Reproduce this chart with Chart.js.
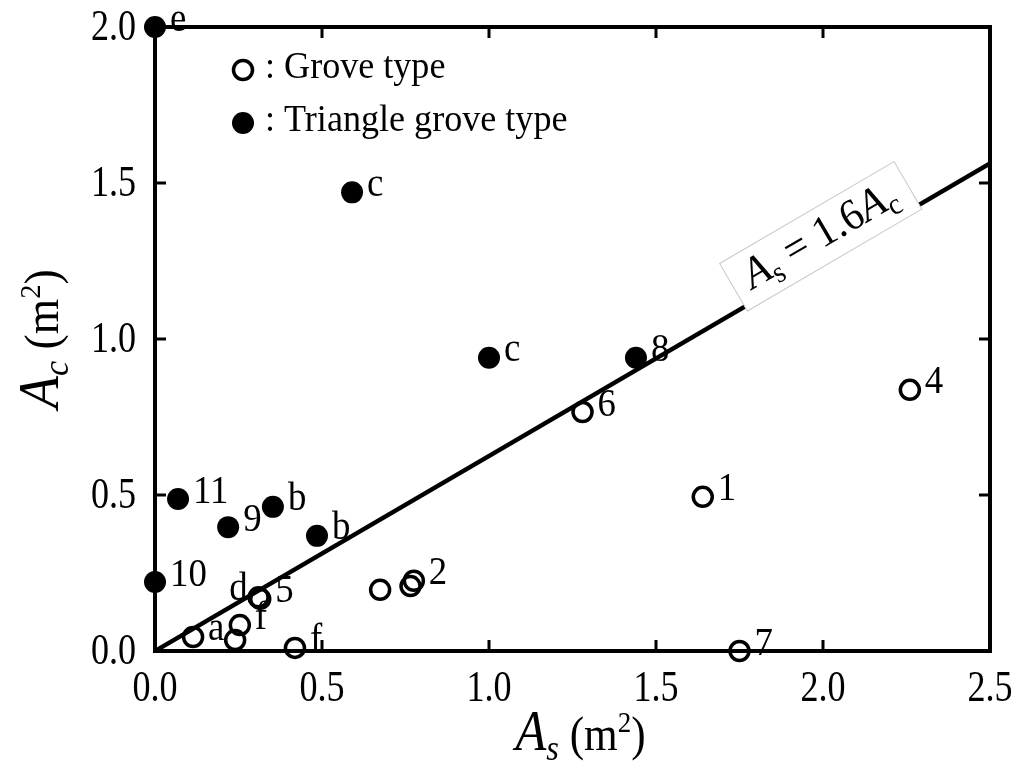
<!DOCTYPE html>
<html>
<head>
<meta charset="utf-8">
<script src="https://cdn.jsdelivr.net/npm/chart.js@4/dist/chart.umd.min.js"></script>
<style>
  html, body { margin: 0; padding: 0; background: #fff; }
  #wrap { width: 1016px; height: 767px; }
</style>
</head>
<body>
<div id="wrap"><canvas id="c" width="1016" height="767"></canvas></div>
<script>
// Grove type specimens (open circles)
const groveAs = [1.64, 0.775, 0.765, 0.674, 2.26, 0.315, 0.31, 1.28, 1.75, 0.114, 0.254, 0.24, 0.419];
const groveAc = [0.494, 0.225, 0.208, 0.196, 0.837, 0.167, 0.172, 0.766, 0.0, 0.045, 0.083, 0.035, 0.01];
const groveTags = ['1', '2', '', '', '4', '5', 'd', '6', '7', 'a', 'f', '', 'f'];

// Triangle grove type specimens (filled circles)
const triAs = [0.0, 0.59, 1.0, 1.44, 0.069, 0.219, 0.353, 0.485, 0.0];
const triAc = [2.0, 1.47, 0.94, 0.94, 0.487, 0.397, 0.462, 0.369, 0.221];
const triTags = ['e', 'c', 'c', '8', '11', '9', 'b', 'b', '10'];

// Reference relation As = 1.6 Ac
const ratio = 1.6;
const asRange = [0, 2.5];
const acRange = [0, 2.0];
const asTicks = [0, 0.5, 1.0, 1.5, 2.0, 2.5];
const acTicks = [0, 0.5, 1.0, 1.5, 2.0];

const SERIF = '"Liberation Serif", "Times New Roman", serif';

const toPoints = (xs, ys) => xs.map((x, i) => ({ x: x, y: ys[i] }));

// Draw a run of text segments (font, text, vertical shift) with horizontal compression
function richWidth(ctx, segs, sx) {
  let w = 0;
  segs.forEach(s => { ctx.font = s.font; w += ctx.measureText(s.t).width * sx; });
  return w;
}
function drawRich(ctx, segs, x, y, align, sx) {
  const w = richWidth(ctx, segs, sx);
  let cx = align === 'center' ? x - w / 2 : (align === 'right' ? x - w : x);
  ctx.textAlign = 'left';
  segs.forEach(s => {
    ctx.font = s.font;
    ctx.save();
    ctx.translate(cx, y + (s.dy || 0));
    ctx.scale(sx, 1);
    ctx.fillText(s.t, 0, 0);
    ctx.restore();
    cx += ctx.measureText(s.t).width * sx;
  });
}
function drawText(ctx, t, x, y, font, align, sx) {
  drawRich(ctx, [{ t: t, font: font }], x, y, align, sx);
}

const framePlugin = {
  id: 'frame',
  afterDatasetsDraw(chart) {
    const ctx = chart.ctx;
    const xs = chart.scales.x, ys = chart.scales.y;
    const L = xs.getPixelForValue(asRange[0]), R = xs.getPixelForValue(asRange[1]);
    const T = ys.getPixelForValue(acRange[1]), B = ys.getPixelForValue(acRange[0]);

    ctx.save();
    ctx.fillStyle = '#000';
    ctx.strokeStyle = '#000';

    // label box on the reference line
    const a0 = 1.766;
    const p0x = xs.getPixelForValue(a0), p0y = ys.getPixelForValue(a0 / ratio);
    const q0x = xs.getPixelForValue(asRange[1]), q0y = ys.getPixelForValue(asRange[1] / ratio);
    const ang = Math.atan2(q0y - p0y, q0x - p0x);
    ctx.save();
    ctx.translate(p0x, p0y);
    ctx.rotate(ang);
    ctx.fillStyle = '#fff';
    ctx.fillRect(0, -50, 202, 55);
    ctx.strokeStyle = '#c8c8c8';
    ctx.lineWidth = 1;
    ctx.strokeRect(0, -50, 202, 55);
    ctx.fillStyle = '#000';
    ctx.textBaseline = 'alphabetic';
    drawRich(ctx, [
      { t: 'A', font: 'italic 44px ' + SERIF },
      { t: 's', font: '30px ' + SERIF, dy: 8 },
      { t: ' = 1.6', font: '44px ' + SERIF },
      { t: 'A', font: 'italic 44px ' + SERIF },
      { t: 'c', font: '30px ' + SERIF, dy: 8 }
    ], 101, -11, 'center', 0.95);
    ctx.restore();

    // frame
    ctx.lineWidth = 4;
    ctx.strokeRect(L, T, R - L, B - T);

    // inward ticks on all four sides
    ctx.lineWidth = 3;
    const tl = 11;
    asTicks.forEach(v => {
      const px = xs.getPixelForValue(v);
      ctx.beginPath();
      ctx.moveTo(px, B); ctx.lineTo(px, B - tl);
      ctx.moveTo(px, T); ctx.lineTo(px, T + tl);
      ctx.stroke();
    });
    acTicks.forEach(v => {
      const py = ys.getPixelForValue(v);
      ctx.beginPath();
      ctx.moveTo(L, py); ctx.lineTo(L + tl, py);
      ctx.moveTo(R, py); ctx.lineTo(R - tl, py);
      ctx.stroke();
    });

    // tick labels
    ctx.textBaseline = 'middle';
    const tickFont = '44px ' + SERIF;
    asTicks.forEach(v => {
      drawText(ctx, v.toFixed(1), xs.getPixelForValue(v), B + 38, tickFont, 'center', 0.82);
    });
    acTicks.forEach(v => {
      drawText(ctx, v.toFixed(1), L - 19, ys.getPixelForValue(v) + 1, tickFont, 'right', 0.82);
    });

    // point tags
    const tagFont = '40px ' + SERIF;
    const tagSets = [
      { xs: groveAs, ys: groveAc, tags: groveTags },
      { xs: triAs, ys: triAc, tags: triTags }
    ];
    tagSets.forEach(set => {
      set.tags.forEach((t, i) => {
        if (!t) return;
        const px = xs.getPixelForValue(set.xs[i]);
        const py = ys.getPixelForValue(set.ys[i]);
        if (t === 'd') {
          drawText(ctx, t, px - 11, py - 8, tagFont, 'right', 0.92);
        } else {
          drawText(ctx, t, px + 15, py - 7, tagFont, 'left', 0.92);
        }
      });
    });

    // legend
    const legFont = '38px ' + SERIF;
    ctx.lineWidth = 3.5;
    ctx.beginPath();
    ctx.arc(243, 70, 9.5, 0, Math.PI * 2);
    ctx.stroke();
    ctx.beginPath();
    ctx.arc(243, 123, 11, 0, Math.PI * 2);
    ctx.fill();
    drawText(ctx, ': Grove type', 265, 68, legFont, 'left', 0.95);
    drawText(ctx, ': Triangle grove type', 265, 121, legFont, 'left', 0.95);

    // axis titles
    ctx.textBaseline = 'alphabetic';
    drawRich(ctx, [
      { t: 'A', font: 'italic 56px ' + SERIF },
      { t: 's', font: 'italic 36px ' + SERIF, dy: 10 },
      { t: ' (m', font: '48px ' + SERIF },
      { t: '2', font: '30px ' + SERIF, dy: -18 },
      { t: ')', font: '48px ' + SERIF }
    ], (L + R) / 2 + 8, 750, 'center', 0.9);

    ctx.save();
    ctx.translate(58, (T + B) / 2);
    ctx.rotate(-Math.PI / 2);
    drawRich(ctx, [
      { t: 'A', font: 'italic 56px ' + SERIF },
      { t: 'c', font: 'italic 36px ' + SERIF, dy: 10 },
      { t: ' (m', font: '48px ' + SERIF },
      { t: '2', font: '30px ' + SERIF, dy: -18 },
      { t: ')', font: '48px ' + SERIF }
    ], 0, 0, 'center', 0.95);
    ctx.restore();

    ctx.restore();
  }
};

new Chart(document.getElementById('c'), {
  type: 'scatter',
  data: {
    datasets: [
      {
        label: 'As = 1.6Ac',
        data: asRange.map(v => ({ x: v, y: v / ratio })),
        showLine: true,
        borderColor: '#000',
        borderWidth: 4.5,
        pointRadius: 0,
        order: 3
      },
      {
        label: 'Grove type',
        data: toPoints(groveAs, groveAc),
        pointStyle: 'circle',
        pointRadius: 9.5,
        borderWidth: 3.5,
        borderColor: '#000',
        backgroundColor: 'rgba(0,0,0,0)',
        clip: false,
        order: 2
      },
      {
        label: 'Triangle grove type',
        data: toPoints(triAs, triAc),
        pointStyle: 'circle',
        pointRadius: 11,
        borderWidth: 0,
        backgroundColor: '#000',
        clip: false,
        order: 1
      }
    ]
  },
  options: {
    responsive: false,
    animation: false,
    devicePixelRatio: 1,
    layout: { padding: { left: 155, right: 26, top: 27, bottom: 116 } },
    scales: {
      x: { type: 'linear', min: asRange[0], max: asRange[1], display: false },
      y: { type: 'linear', min: acRange[0], max: acRange[1], display: false }
    },
    plugins: { legend: { display: false }, tooltip: { enabled: false } },
    events: []
  },
  plugins: [framePlugin]
});
</script>
</body>
</html>
